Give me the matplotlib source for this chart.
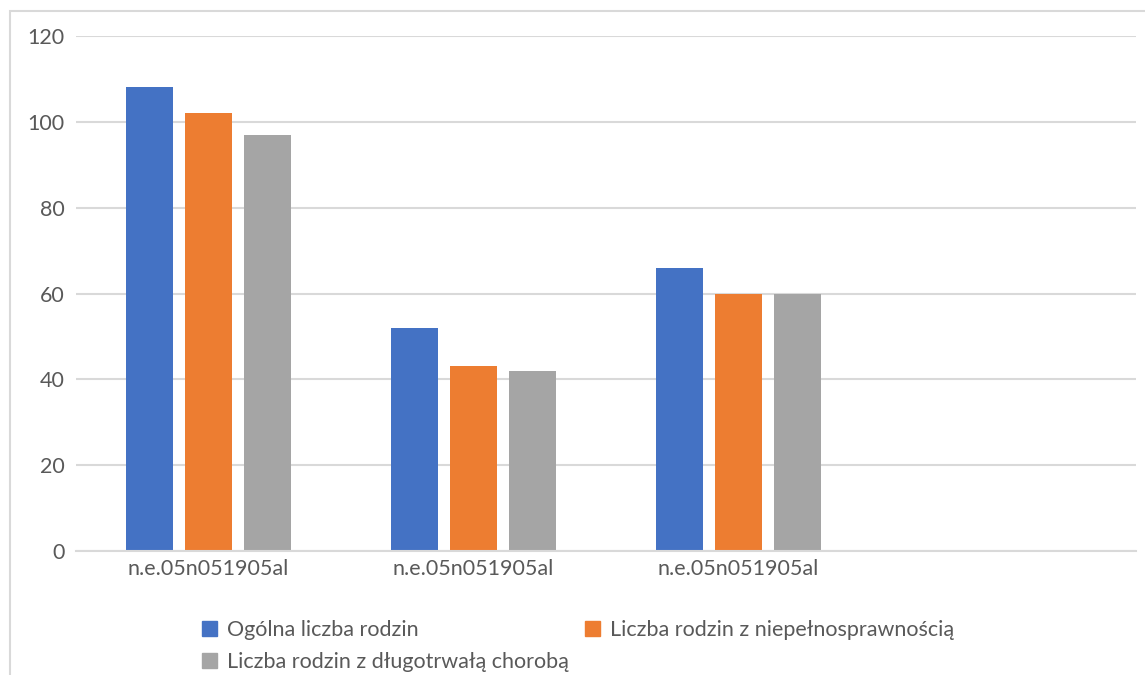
import numpy as np
import matplotlib.pyplot as plt
from matplotlib.patches import Rectangle, Patch

categories = ['n.e.05n051905al', 'n.e.05n051905al', 'n.e.05n051905al', '']
ogolna = [108, 52, 66, np.nan]
niepelnosprawnosc = [102, 43, 60, np.nan]
choroba = [97, 42, 60, np.nan]
series_names = ['Ogólna liczba rodzin', 'Liczba rodzin z niepełnosprawnością',
                'Liczba rodzin z długotrwałą chorobą']
colors = ['#4472C4', '#ED7D31', '#A5A5A5']

plt.rcParams['font.family'] = ['Lato', 'DejaVu Sans']
text_color = '#595959'
grid_color = '#D9D9D9'

fig = plt.figure(figsize=(11.45, 6.75), dpi=100)
ax = fig.add_axes([76 / 1145, 1 - 551 / 675, (1136 - 76) / 1145, (551 - 36) / 675])

x = np.arange(len(categories))
width = 0.177
step = 0.223
for i, (vals, name) in enumerate(zip([ogolna, niepelnosprawnosc, choroba], series_names)):
    ax.bar(x + (i - 1) * step, vals, width, color=colors[i], label=name, zorder=2)

ax.set_xlim(-0.5, len(categories) - 0.5)
ax.set_ylim(0, 120)
ax.set_yticks(np.arange(0, 121, 20))
ax.set_xticks(x)
ax.set_xticklabels(categories)
ax.yaxis.grid(True, color=grid_color, linewidth=1.5, zorder=0)
for s in ['top', 'right', 'left']:
    ax.spines[s].set_visible(False)
ax.spines['bottom'].set_color(grid_color)
ax.spines['bottom'].set_linewidth(1.5)
ax.tick_params(axis='both', length=0, labelsize=15.5, labelcolor=text_color)
ax.tick_params(axis='y', pad=8)
ax.tick_params(axis='x', pad=6)

# chart border (left and top edges visible)
fig.patches.append(Rectangle((9.5 / 1145, -0.1), 1.2, 1 - 11 / 675 + 0.1,
                             transform=fig.transFigure, fill=False,
                             edgecolor=grid_color, linewidth=1.5))

# legend in Excel row order: blue, orange / gray
handles = [Patch(color=c) for c in colors]
order = [0, 2, 1]
leg = fig.legend([handles[i] for i in order], [series_names[i] for i in order],
                 ncol=2, loc='upper left', bbox_to_anchor=(202 / 1145, 1 - 620 / 675),
                 frameon=False, fontsize=15.5, handlelength=0.7, handleheight=0.7,
                 handletextpad=0.45, columnspacing=0.75, labelspacing=0.55,
                 borderaxespad=0, borderpad=0)
for t in leg.get_texts():
    t.set_color(text_color)

fig.savefig('out.png', dpi=100)
